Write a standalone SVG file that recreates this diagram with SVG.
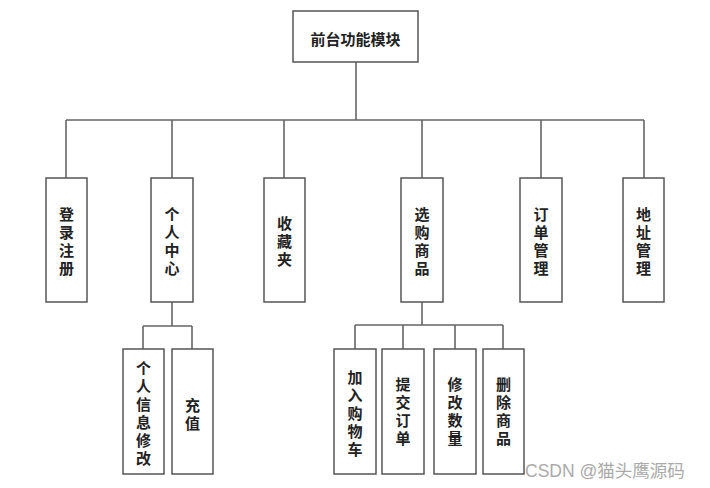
<svg xmlns="http://www.w3.org/2000/svg" width="710" height="488" viewBox="0 0 710 488">
<style>
.box{fill:#fff;stroke:#555;stroke-width:1.5}
.ln{fill:none;stroke:#666;stroke-width:1.6}
.t{font-family:"Noto Sans CJK SC","Liberation Sans",sans-serif;font-size:15px;font-weight:bold;fill:#222;text-anchor:middle;dominant-baseline:central}
.v{writing-mode:vertical-rl;text-orientation:upright;letter-spacing:3px}
.wm{font-family:"Liberation Sans","Noto Sans CJK SC",sans-serif;font-size:17.5px;fill:#aaa}
</style>
<rect width="710" height="488" fill="#fff"/>
<g id="connectors">
<path class="ln" d="M356 62V120M66 120H644M66 120V178M172 120V178M284 120V178M422 120V178M541 120V178M644 120V178"/>
<path class="ln" d="M172 302V326M143 326H192M143 326V349M192 326V349"/>
<path class="ln" d="M422 302V325M355 325H503M355 325V349M403 325V349M455 325V349M503 325V349"/>
</g>
<g id="root"><rect class="box" x="293" y="11" width="125" height="51"/><text class="t" x="355.5" y="38">前台功能模块</text></g>
<g id="n1"><rect class="box" x="46" y="178" width="41" height="124"/><text class="t v" x="66.5" y="242.5">登录注册</text></g>
<g id="n2"><rect class="box" x="151" y="178" width="42" height="124"/><text class="t v" x="172" y="242.5">个人中心</text></g>
<g id="n3"><rect class="box" x="264" y="178" width="41" height="124"/><text class="t v" x="284.5" y="242.5">收藏夹</text></g>
<g id="n4"><rect class="box" x="401" y="178" width="42" height="124"/><text class="t v" x="422" y="242.5">选购商品</text></g>
<g id="n5"><rect class="box" x="520" y="178" width="42" height="124"/><text class="t v" x="541" y="242.5">订单管理</text></g>
<g id="n6"><rect class="box" x="623" y="178" width="41" height="124"/><text class="t v" x="643.5" y="242.5">地址管理</text></g>
<g id="n21"><rect class="box" x="123" y="349" width="41" height="125"/><text class="t v" x="143.5" y="414.5">个人信息修改</text></g>
<g id="n22"><rect class="box" x="172" y="349" width="41" height="125"/><text class="t v" x="192.5" y="415.5">充值</text></g>
<g id="n41"><rect class="box" x="334" y="349" width="42" height="125"/><text class="t v" x="355" y="414.5">加入购物车</text></g>
<g id="n42"><rect class="box" x="382" y="349" width="42" height="125"/><text class="t v" x="403" y="412.5">提交订单</text></g>
<g id="n43"><rect class="box" x="434" y="349" width="42" height="125"/><text class="t v" x="455" y="412.5">修改数量</text></g>
<g id="n44"><rect class="box" x="483" y="349" width="41" height="125"/><text class="t v" x="503.5" y="412.5">删除商品</text></g>
<text class="wm" x="525" y="477">CSDN @猫头鹰源码</text>
</svg>
